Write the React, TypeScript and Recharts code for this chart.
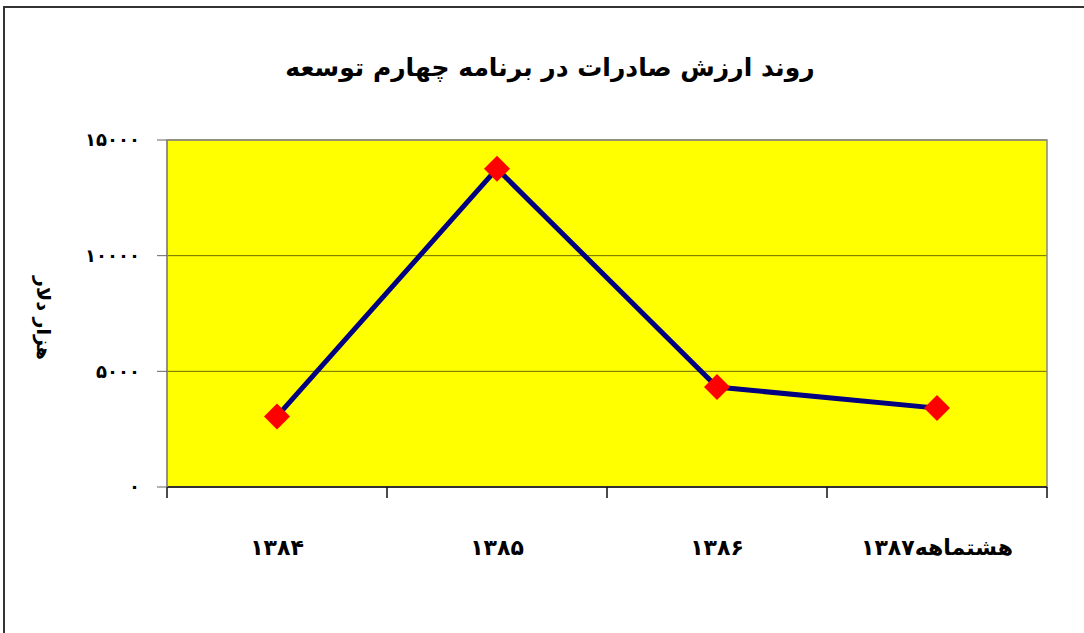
import React from 'react';
import { LineChart, Line, XAxis, YAxis, CartesianGrid, ReferenceArea } from 'recharts';

// صادرات - هزار دلار
const categories = ['۱۳۸۴', '۱۳۸۵', '۱۳۸۶', 'هشتماهه۱۳۸۷'];
const exportValues = [3050, 13760, 4320, 3410];
const yTicks = [0, 5000, 10000, 15000];
const boundaryTicks = [0, 1, 2, 3, 4];
const labelTicks = [0.5, 1.5, 2.5, 3.5];

const title = 'روند ارزش صادرات در برنامه چهارم توسعه';
const yTitle = 'هزار دلار';

const faDigits = ['۰', '۱', '۲', '۳', '۴', '۵', '۶', '۷', '۸', '۹'];
const toFa = (n: number) => String(n).replace(/\d/g, (d) => faDigits[Number(d)]);

const font = '"DejaVu Sans", sans-serif';

const data = categories.map((name, i) => ({ pos: i + 0.5, name, value: exportValues[i] }));

const Diamond = (props: any) => {
  const { cx, cy } = props;
  if (cx == null || cy == null) return null;
  const r = 13;
  return <path d={`M${cx},${cy - r}L${cx + r},${cy}L${cx},${cy + r}L${cx - r},${cy}Z`} fill="#ff0000" />;
};

const App: React.FC = () => {
  return (
    <div style={{ position: 'absolute', left: 0, top: 0, width: 1084, height: 633, background: '#fff', overflow: 'hidden', fontFamily: font }}>
      <div style={{ position: 'absolute', left: 3, top: 6, width: 1100, height: 700, borderTop: '2px solid #333', borderLeft: '2px solid #333' }} />
      <div style={{ position: 'absolute', left: 0, width: 1100, top: 53, textAlign: 'center', fontSize: 25, fontWeight: 'bold', direction: 'rtl' }}>
        {title}
      </div>
      <div style={{ position: 'absolute', left: 44, top: 318, width: 0, height: 0 }}>
        <div style={{ position: 'absolute', transform: 'translate(-50%, -50%) rotate(90deg)', whiteSpace: 'nowrap', fontSize: 19, fontWeight: 'bold', direction: 'rtl' }}>
          {yTitle}
        </div>
      </div>
      <LineChart
        width={1084}
        height={633}
        data={data}
        margin={{ top: 140, right: 37, left: 0, bottom: 74 }}
        style={{ position: 'absolute', left: 0, top: 0 }}
      >
        <CartesianGrid vertical={false} fill="#ffff00" stroke="#6b6b00" strokeOpacity={1} />
        <ReferenceArea x1={0} x2={4} y1={0} y2={15000} fill="none" stroke="#888" strokeWidth={1.5} ifOverflow="visible" />
        <XAxis
          dataKey="pos"
          type="number"
          domain={[0, 4]}
          ticks={boundaryTicks}
          tickFormatter={() => ''}
          tickSize={11}
          height={12}
          axisLine={{ stroke: '#333', strokeWidth: 2 }}
          tickLine={{ stroke: '#111', strokeWidth: 1.5 }}
        />
        <XAxis
          xAxisId="labels"
          dataKey="pos"
          type="number"
          domain={[0, 4]}
          ticks={labelTicks}
          axisLine={false}
          tickLine={false}
          tickSize={0}
          tickMargin={40}
          height={60}
          tickFormatter={(v: number) => categories[Math.floor(v)]}
          tick={{ fill: '#000', fontSize: 22, fontWeight: 'bold', fontFamily: font }}
        />
        <YAxis
          type="number"
          domain={[0, 15000]}
          ticks={yTicks}
          width={167}
          tickSize={10}
          tickMargin={17}
          axisLine={{ stroke: '#888', strokeWidth: 1.5 }}
          tickLine={{ stroke: '#666' }}
          tickFormatter={(v: number) => toFa(v)}
          tick={{ fill: '#000', fontSize: 18, fontWeight: 'bold', fontFamily: font }}
        />
        <Line
          type="linear"
          dataKey="value"
          stroke="#000080"
          strokeWidth={5}
          dot={<Diamond />}
          activeDot={false}
          isAnimationActive={false}
        />
      </LineChart>
    </div>
  );
};

export default App;
